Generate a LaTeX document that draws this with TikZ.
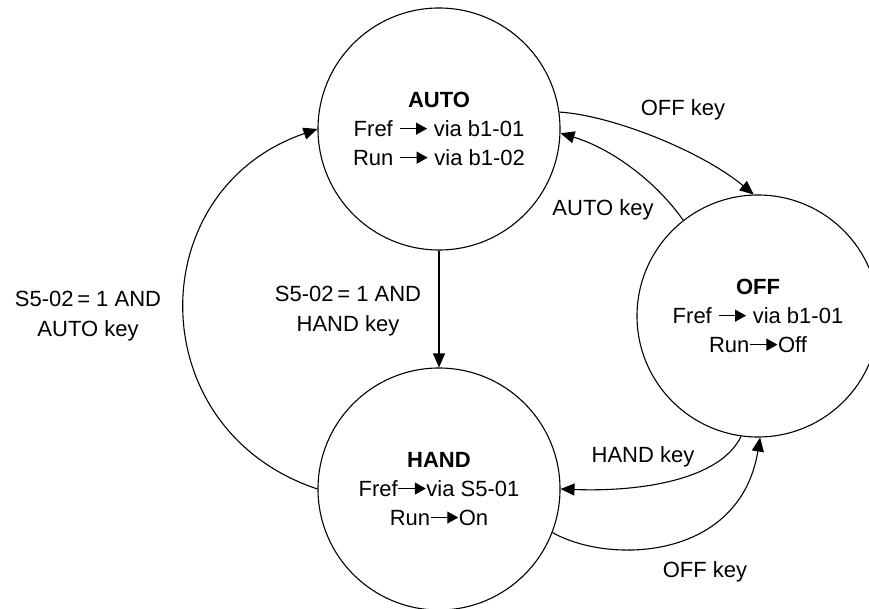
\documentclass[tikz,border=0pt]{standalone}
\usepackage{fontspec}
\setmainfont{Liberation Sans}
\usetikzlibrary{arrows.meta}
\newcommand{\myarr}{\tikz[baseline]{\draw[line width=1.2pt,-{Triangle[length=11pt,width=12pt]}] (0pt,0.36em) -- (1.25em,0.36em);}}
\tikzset{
  stateC/.style={circle,draw,line width=1.1pt,minimum size=242pt,inner sep=0pt,align=center,font=\fontsize{22}{29}\selectfont},
  conn/.style={line width=1.1pt,-{Triangle[length=14pt,width=12pt]}},
  lbl/.style={align=center,font=\fontsize{22}{30}\selectfont,inner sep=0pt}
}
\begin{document}
\begin{tikzpicture}[x=1pt,y=-1pt]
\useasboundingbox (0,0) rectangle (869,609);
\clip (0,0) rectangle (869,609);
\node[stateC] (auto) at (439,129) {\textbf{AUTO}\\Fref \myarr{} via b1-01\\Run \myarr{} via b1-02};
\node[stateC] (off) at (758,316) {\textbf{OFF}\\Fref \myarr{} via b1-01\\Run\myarr{}Off};
\node[stateC] (hand) at (439,489) {\textbf{HAND}\\Fref\myarr{}via S5-01\\Run\myarr{}On};

\draw[conn] (auto.south) -- (hand.north);
\draw[conn] (hand.180) .. controls (140,430) and (140,190) .. (auto.180);
\draw[conn] (auto.8) .. controls (610,115) and (700,150) .. (off.92);
\draw[conn] (off.128) .. controls (655,180) and (610,148) .. (auto.-2);
\draw[conn] (off.262) .. controls (720,480) and (640,492) .. (hand.0);
\draw[conn] (hand.-21) .. controls (610,565) and (740,560) .. (off.-89);

\node[lbl] (l1) at (683,110) {OFF key};
\node[lbl] (l2) at (603,210) {AUTO key};
\node[lbl] (l3) at (643,457) {HAND key};
\node[lbl] (l4) at (705,572) {OFF key};
\node[lbl] (l5) at (88,316) {S5-02\,= 1 AND\\AUTO key};
\node[lbl] (l6) at (348,311) {S5-02\,= 1 AND\\HAND key};
\end{tikzpicture}
\end{document}
